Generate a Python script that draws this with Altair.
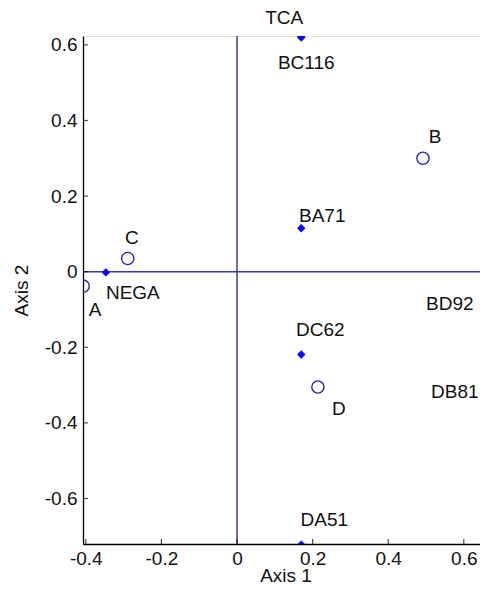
import altair as alt
import pandas as pd

# ---- data ----
filled_names = ["TCA", "BC116", "BA71", "NEGA", "BD92", "DC62", "DB81", "DA51"]
filled_x = [0.170, 0.170, 0.170, -0.347, 0.669, 0.170, 0.669, 0.170]
filled_y = [0.620, 0.620, 0.115, -0.002, -0.027, -0.219, -0.362, -0.722]

open_names = ["A", "B", "C", "D"]
open_x = [-0.407, 0.492, -0.289, 0.214]
open_y = [-0.038, 0.300, 0.035, -0.305]

x_ticks = [-0.4, -0.2, 0, 0.2, 0.4, 0.6]
y_ticks = [-0.6, -0.4, -0.2, 0, 0.2, 0.4, 0.6]

X_MIN, X_MAX = -0.4074, 0.6640
Y_MIN, Y_MAX = -0.7204, 0.6235

# label placement relative to its point (pixels)
LABEL_OFFSETS = {
    "TCA": (-17, -19), "BC116": (5, 26), "BA71": (21, -12), "NEGA": (27, 21),
    "BD92": (-40, 22), "DC62": (19, -24), "DB81": (-35, -17), "DA51": (23, -25),
    "A": (12, 24), "B": (12, -21), "C": (4, -20), "D": (21, 22),
}

filled = pd.DataFrame({"name": filled_names, "x": filled_x, "y": filled_y})
opened = pd.DataFrame({"name": open_names, "x": open_x, "y": open_y})
allpts = pd.concat([filled, opened], ignore_index=True)

FONT = "Liberation Sans"
FS = 19

LABEL_EXPR = ("datum.value < 0 ? '-' + format(-datum.value, '.1f') : "
              "(datum.value == 0 ? '0' : format(datum.value, '.1f'))")

xs = alt.Scale(domain=[X_MIN, X_MAX], nice=False, zero=False)
ys = alt.Scale(domain=[Y_MIN, Y_MAX], nice=False, zero=False)

x_axis = alt.Axis(values=x_ticks, grid=False, tickSize=0, labelPadding=5,
                  domainColor="#000", domainWidth=1.3, labelFont=FONT,
                  labelFontSize=FS, labelColor="#111", labelExpr=LABEL_EXPR,
                  title="Axis 1",
                  titleFont=FONT, titleFontSize=FS, titleFontWeight="normal",
                  titleColor="#111", titleBaseline="alphabetic", titleY=37,
                  labelFlush=False, labelOverlap=False)
y_axis = alt.Axis(values=y_ticks, grid=False, tickSize=0, labelPadding=6,
                  domainColor="#000", domainWidth=1.3, labelFont=FONT,
                  labelFontSize=FS, labelColor="#111", labelExpr=LABEL_EXPR,
                  title="Axis 2",
                  titleFont=FONT, titleFontSize=FS, titleFontWeight="normal",
                  titleColor="#111", titlePadding=13, labelFlush=False,
                  labelOverlap=False)

base = alt.Chart(allpts)

hline = alt.Chart(pd.DataFrame({"v": [0]})).mark_rule(
    color="#3a3ab0", strokeWidth=1.5).encode(y=alt.Y("v:Q", scale=ys, axis=y_axis))
vline = alt.Chart(pd.DataFrame({"v": [0]})).mark_rule(
    color="#3a3ab0", strokeWidth=1.5).encode(x=alt.X("v:Q", scale=xs, axis=x_axis))

xtick_df = pd.DataFrame({"t": x_ticks, "b": [Y_MIN] * len(x_ticks)})
ytick_df = pd.DataFrame({"t": y_ticks, "b": [X_MIN] * len(y_ticks)})
xticks = alt.Chart(xtick_df).mark_tick(
    orient="vertical", size=5, thickness=1.2, color="#000", yOffset=-2.5
).encode(x=alt.X("t:Q", scale=xs), y=alt.Y("b:Q", scale=ys))
yticks = alt.Chart(ytick_df).mark_tick(
    orient="horizontal", size=5, thickness=1.2, color="#000", xOffset=2.5
).encode(y=alt.Y("t:Q", scale=ys), x=alt.X("b:Q", scale=xs))

diamonds = alt.Chart(filled).mark_point(
    shape="diamond", filled=True, size=70, color="#0000ff", opacity=1, clip=True
).encode(x=alt.X("x:Q", scale=xs), y=alt.Y("y:Q", scale=ys))

circles = alt.Chart(opened).mark_point(
    shape="circle", filled=False, size=150, color="#2828a8", strokeWidth=1.4,
    opacity=1, clip=True
).encode(x=alt.X("x:Q", scale=xs), y=alt.Y("y:Q", scale=ys))

texts = []
for nm, (dx, dy) in LABEL_OFFSETS.items():
    texts.append(
        base.transform_filter(alt.datum.name == nm).mark_text(
            font=FONT, fontSize=FS, color="#111", dx=dx, dy=dy,
            align="center", baseline="middle"
        ).encode(x=alt.X("x:Q", scale=xs), y=alt.Y("y:Q", scale=ys), text="name:N")
    )

chart = alt.layer(hline, vline, xticks, yticks, diamonds, circles, *texts).properties(
    width=405, height=508,
    autosize=alt.AutoSizeParams(type="none"),
    padding={"left": 75, "top": 28, "right": -8, "bottom": 40},
).configure_view(stroke=None).configure(background="white")

chart.save("out.html", embed_options={"renderer": "svg", "actions": False})
